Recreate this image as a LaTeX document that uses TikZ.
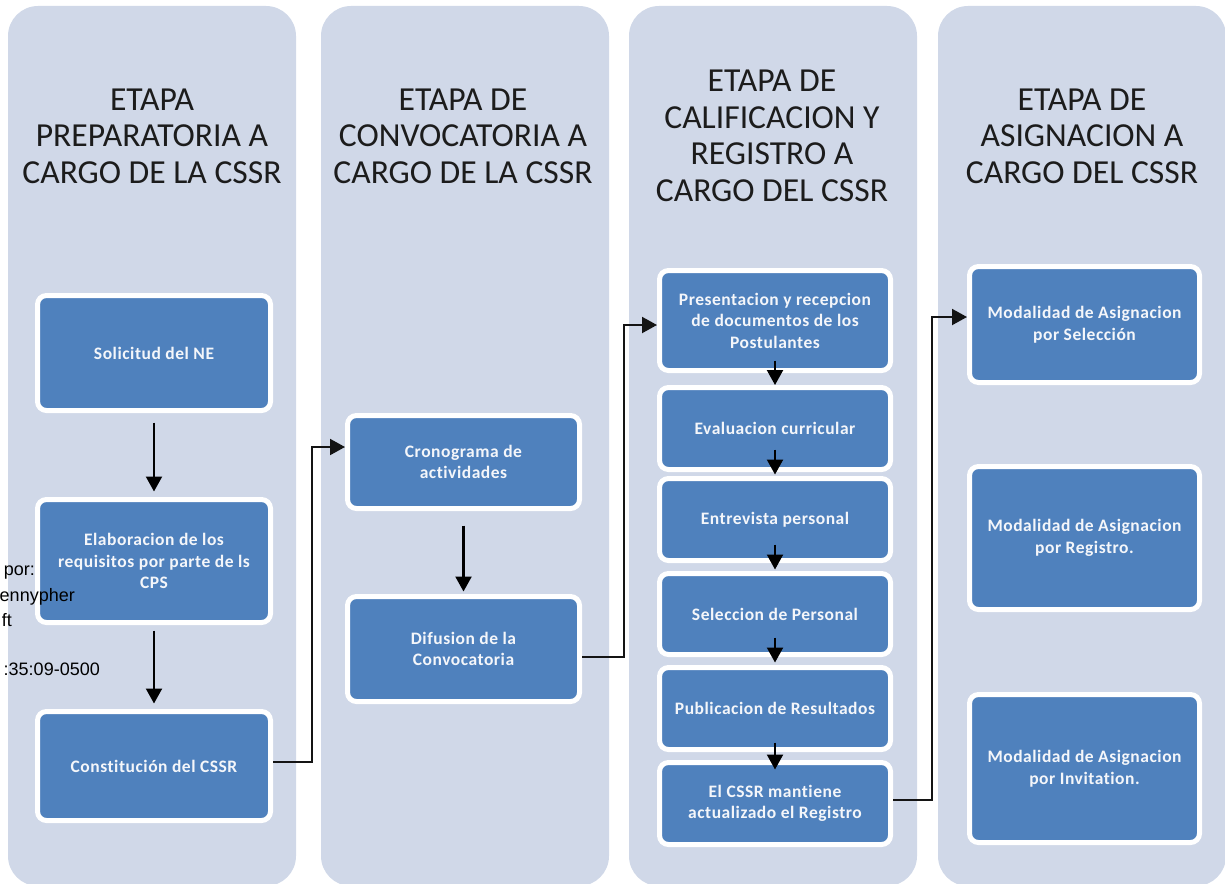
\documentclass[tikz,border=0pt]{standalone}
\usepackage{fontspec}
\setmainfont{Carlito}[Ligatures=NoCommon]
\newfontfamily\signfont{Liberation Sans}
\usepackage{xcolor}
\definecolor{StageBack}{RGB}{208,216,232}
\definecolor{StepBlue}{RGB}{79,129,189}
\definecolor{TitleInk}{RGB}{28,28,28}
\definecolor{StepInk}{RGB}{244,246,250}
\definecolor{LinkInk}{RGB}{20,20,20}
\usetikzlibrary{
    arrows.meta,
    positioning
}

\begin{document}
\begin{tikzpicture}[
    x=1pt,
    y=-1pt,
%
    stage/.style={
        fill=StageBack,
        rounded corners=30pt,
        minimum width=288pt,
        minimum height=880pt,
        inner sep=0pt
    },
%
    stagetitle/.style={
        text=TitleInk,
        align=center,
        inner sep=0pt,
        font=\fontsize{33.6}{36.5}\selectfont
    },
%
    stepbox/.style={
        draw=white,
        line width=5pt,
        rounded corners=9pt,
        fill=StepBlue,
        text=StepInk,
        align=center,
        inner sep=0pt,
        font=\fontsize{17.5}{21.5}\selectfont\bfseries\addfontfeature{LetterSpace=3,Ligatures=NoCommon}
    },
%
    arrow/.style={
        -{Triangle[length=15pt,width=16pt]},
        line width=2.2pt,
        color=black
    },
%
    link/.style={
        arrow,
        line width=2pt,
        color=LinkInk
    },
%
    signtext/.style={
        anchor=east,
        inner sep=0pt,
        font=\signfont\fontsize{18}{18}\selectfont
    }
]
\useasboundingbox (0,0) rectangle (1225,883);
%
% The four stages, as tall panels with their headings.
%
\node[stage] (stage1) at (152,446) {};
\node[stage] (stage2) at (465,446) {};
\node[stage] (stage3) at (773,446) {};
\node[stage] (stage4) at (1082,446) {};
\node[stagetitle] (title1) at (152,136) {
    ETAPA\\
    PREPARATORIA A\\
    CARGO DE LA CSSR
};
\node[stagetitle] (title2) at (463,136) {
    ETAPA DE\\
    CONVOCATORIA A\\
    CARGO DE LA CSSR
};
\node[stagetitle] (title3) at (772,136) {
    ETAPA DE\\
    CALIFICACION Y\\
    REGISTRO A\\
    CARGO DEL CSSR
};
\node[stagetitle] (title4) at (1082,136) {
    ETAPA DE\\
    ASIGNACION A\\
    CARGO DEL CSSR
};
%
% Preparatory stage.
%
\node[
    stepbox,
    minimum width=233pt,
    minimum height=115pt
] (sol) at (154,353) {Solicitud del NE};
\node[
    stepbox,
    minimum width=233pt,
    minimum height=123pt
] (ela) at (154,561) {
    Elaboracion de los\\
    requisitos por parte de ls\\
    CPS
};
\node[
    stepbox,
    minimum width=233pt,
    minimum height=109pt
] (con) at (154,766) {Constitución del CSSR};
\draw[arrow, shorten <=9.5pt, shorten >=5.5pt] (sol) -- (ela);
\draw[arrow, shorten <=5.5pt, shorten >=5.5pt] (ela) -- (con);
%
% Call stage.
%
\node[
    stepbox,
    minimum width=232pt,
    minimum height=93pt
] (cro) at (463.5,462) {
    Cronograma de\\
    actividades
};
\node[
    stepbox,
    minimum width=232pt,
    minimum height=105pt
] (dif) at (463.5,649) {
    Difusion de la\\
    Convocatoria
};
\draw[arrow, shorten <=14.5pt, shorten >=2.5pt] (cro) -- (dif);
%
% Rating and registration stage.
%
\node[
    stepbox,
    minimum width=231pt,
    minimum height=100pt
] (pre) at (775,320.5) {
    Presentacion y recepcion\\
    de documentos de los\\
    Postulantes
};
\node[
    stepbox,
    minimum width=231pt,
    minimum height=82pt
] (eva) at (775,428.5) {Evaluacion curricular};
\node[
    stepbox,
    minimum width=231pt,
    minimum height=82pt
] (ent) at (775,519.5) {Entrevista personal};
\node[
    stepbox,
    minimum width=231pt,
    minimum height=81pt
] (sel) at (775,614) {Seleccion de Personal};
\node[
    stepbox,
    minimum width=231pt,
    minimum height=82pt
] (pub) at (775,708.5) {Publicacion de Resultados};
\node[
    stepbox,
    minimum width=231pt,
    minimum height=82pt
] (man) at (775,803.5) {
    El CSSR mantiene\\
    actualizado el Registro
};
\draw[arrow] ([yshift=12.5pt]pre.south) -- (eva.north);
\draw[arrow] ([yshift=22.5pt]eva.south) -- ([yshift=1.5pt]ent.north);
\draw[arrow] ([yshift=18.5pt]ent.south) -- ([yshift=1.5pt]sel.north);
\draw[arrow] ([yshift=19.5pt]sel.south) -- ([yshift=2.5pt]pub.north);
\draw[arrow] ([yshift=9.5pt]pub.south) -- ([yshift=-9.5pt]man.north);
%
% Assignment stage.
%
\node[
    stepbox,
    minimum width=230pt,
    minimum height=116pt
] (mod1) at (1084.5,324.5) {
    Modalidad de Asignacion\\
    por Selección
};
\node[
    stepbox,
    minimum width=230pt,
    minimum height=143pt
] (mod2) at (1084.5,538) {
    Modalidad de Asignacion\\
    por Registro.
};
\node[
    stepbox,
    minimum width=230pt,
    minimum height=148pt
] (mod3) at (1084.5,768.5) {
    Modalidad de Asignacion\\
    por Invitation.
};
%
% Links from one stage to the next.
%
\draw[link] ([yshift=4pt]con.east) -- ++(39,0) |- ([yshift=15pt]cro.west);
\draw[link] ([yshift=-8pt]dif.east) -- ++(41.5,0) |- ([yshift=-4.5pt]pre.west);
\draw[link] ([yshift=3.5pt]man.east) -- ++(38.5,0) |- ([yshift=7.5pt]mod1.west);
%
% Signature text over the left edge.
%
\node[signtext] (sign1) at (35,573) {por:};
\node[signtext] (sign2) at (75,597) {ennypher};
\node[signtext] (sign3) at (12,620) {ft};
\node[signtext] (sign4) at (100,669) {:35:09-0500};
%
\end{tikzpicture}
\end{document}
